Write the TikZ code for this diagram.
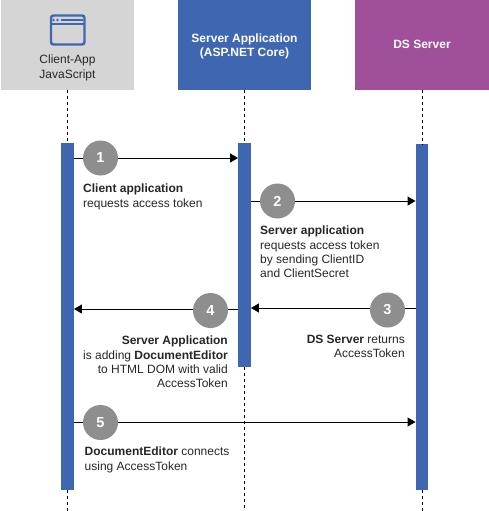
\documentclass[tikz,border=0pt]{standalone}
\usepackage{xcolor}
\usepackage{fontspec}
\setmainfont{Liberation Sans}
\usetikzlibrary{arrows.meta,positioning}
\definecolor{appblue}{HTML}{3F67B1}
\definecolor{dspurple}{HTML}{A0509A}
\definecolor{clientgray}{HTML}{D5D5D5}
\definecolor{stepgray}{HTML}{8E8E8E}
\definecolor{txtgray}{HTML}{262626}
\tikzset{
  head/.style={minimum width=133.5pt,minimum height=89pt,inner sep=0pt},
  bar/.style={fill=appblue,minimum width=12.5pt,inner sep=0pt,anchor=north},
  stepnum/.style={circle,fill=stepgray,text=white,minimum size=35pt,inner sep=0pt,font=\fontsize{14.5}{16}\bfseries\selectfont},
  lbl/.style={text=txtgray,inner sep=0pt,font=\fontsize{12}{14.3}\selectfont},
  headlbl/.style={text=white,inner sep=0pt,align=center,font=\fontsize{12}{14.3}\bfseries\selectfont},
  msg/.style={line width=1pt,-{Triangle[length=8pt,width=9pt]}},
  life/.style={line width=1pt,dash pattern=on 3pt off 3pt}
}
\begin{document}
\begin{tikzpicture}[x=1pt,y=-1pt]
  \useasboundingbox (0,0) rectangle (489,511);
  % the three parties
  \node[head,fill=clientgray] (client) at (67.5,45) {};
  \node[head,fill=appblue] (server) at (244.5,45) {};
  \node[head,fill=dspurple] (ds) at (422,45) {};
  \node[lbl,align=center] (clientname) at (67.5,68) {Client-App\\JavaScript};
  \node[headlbl] (servername) at (244.5,46.5) {Server Application\\(ASP.NET Core)};
  \node[headlbl] (dsname) at (422,44) {DS Server};
  % window icon
  \draw[appblue,line width=2.4pt,rounded corners=2.5pt] (51,15.5) rectangle (84.5,44.5);
  \draw[appblue,line width=2pt] (51,24) -- (84.5,24);
  \fill[appblue] (53.5,20) circle (1.3) (57.5,20) circle (1.3);
  \draw[appblue,line width=2pt] (61,20) -- (83,20);
  % activation bars
  \node[bar,minimum height=347pt] (clientbar) at (67.5,143) {};
  \node[bar,minimum height=224pt] (serverbar) at (244.5,143) {};
  \node[bar,minimum height=346pt] (dsbar) at (422,144) {};
  % lifelines
  \foreach \p in {client,server,ds}{
    \draw[life] (\p.south) -- (\p bar.north);
    \coordinate (\p end) at (\p bar.south |- 0,511);
    \draw[life] (\p bar.south) -- (\p end);
  }
  % messages
  \coordinate (m1) at (0,158);
  \coordinate (m2) at (0,201);
  \coordinate (m3) at (0,308);
  \coordinate (m4) at (0,309);
  \coordinate (m5) at (0,422);
  \draw[msg] (clientbar.east |- m1) -- (serverbar.west |- m1);
  \draw[msg] (serverbar.east |- m2) -- (dsbar.west |- m2);
  \draw[msg] (dsbar.west |- m3) -- (serverbar.east |- m3);
  \draw[msg] (serverbar.west |- m4) -- (clientbar.east |- m4);
  \draw[msg] (clientbar.east |- m5) -- (dsbar.west |- m5);
  % numbers
  \node[stepnum] (n1) at (100.5,158) {1};
  \node[stepnum] (n2) at (277.5,201) {2};
  \node[stepnum] (n3) at (387.5,310) {3};
  \node[stepnum] (n4) at (210.5,310.5) {4};
  \node[stepnum] (n5) at (100.5,422.5) {5};
  % texts
  \node[lbl,anchor=north west,align=left] (t1) at (83,184) {\textbf{Client application}\\requests access token};
  \node[lbl,anchor=north west,align=left] (t2) at (260,226) {\textbf{Server application}\\requests access token\\by sending ClientID\\and ClientSecret};
  \node[lbl,anchor=north east,align=right] (t3) at (405,335) {\textbf{DS Server} returns\\AccessToken};
  \node[lbl,anchor=north east,align=right] (t4) at (228,336) {\textbf{Server Application}\\is adding \textbf{DocumentEditor}\\to HTML DOM with valid\\AccessToken};
  \node[lbl,anchor=north west,align=left] (t5) at (84.5,447) {\textbf{DocumentEditor} connects\\using AccessToken};
\end{tikzpicture}
\end{document}
